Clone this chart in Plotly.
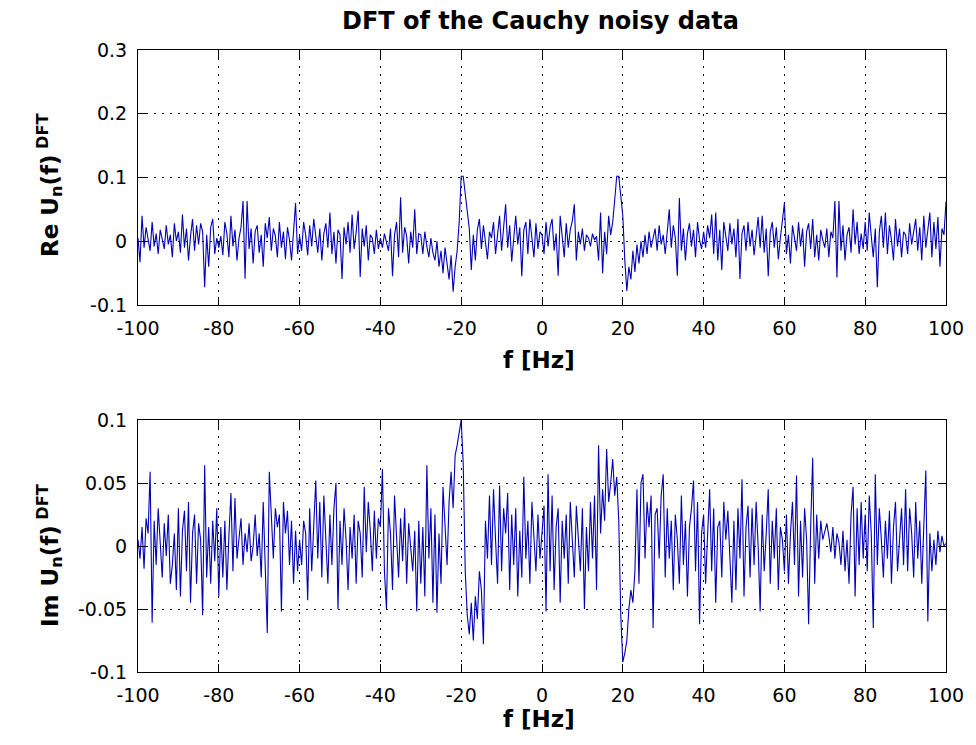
import numpy as np
import plotly.graph_objects as go

# ---------------- data ----------------
freq_step_hz = 0.5
freq_hz = np.arange(-100, 100 + freq_step_hz / 2, freq_step_hz)  # 401 bins

re_rows = [
    [0.005, -0.033, 0.040, -0.010, 0.022, 0.003, -0.015, 0.030, -0.008, 0.012, -0.020, 0.018, 0.002, -0.012, 0.025, -0.005, 0.010, -0.025, 0.028, 0.000],
    [0.015, -0.018, 0.042, -0.010, 0.020, -0.030, 0.008, 0.035, -0.015, 0.025, -0.005, 0.028, 0.015, -0.072, 0.010, -0.040, 0.022, 0.035, -0.020, 0.005],
    [-0.010, 0.008, -0.022, 0.030, 0.012, -0.025, 0.040, -0.008, 0.018, -0.030, 0.005, 0.022, 0.063, -0.059, 0.063, -0.012, 0.020, -0.035, 0.015, 0.025],
    [-0.018, 0.010, -0.040, 0.028, 0.005, 0.038, -0.015, 0.020, 0.008, -0.025, 0.030, -0.010, 0.015, -0.028, 0.022, 0.002, -0.030, 0.012, 0.060, -0.020],
    [0.008, -0.015, 0.030, 0.010, -0.022, 0.025, -0.008, 0.035, 0.005, -0.018, 0.020, -0.030, 0.012, 0.028, -0.010, 0.045, -0.020, 0.015, -0.035, 0.018],
    [0.010, -0.059, 0.022, -0.005, 0.030, -0.018, 0.042, -0.012, 0.015, 0.048, -0.056, 0.020, -0.008, 0.025, -0.030, 0.010, 0.005, -0.020, 0.018, -0.012],
    [0.005, -0.010, 0.012, 0.000, -0.015, 0.020, -0.055, 0.010, 0.030, -0.025, 0.069, -0.018, 0.022, 0.008, -0.035, 0.015, -0.010, 0.050, -0.020, 0.012],
    [0.010, -0.020, 0.015, -0.008, -0.025, 0.005, -0.018, -0.030, 0.000, -0.040, -0.015, -0.050, -0.010, -0.035, -0.060, -0.022, -0.079, -0.040, -0.015, 0.030],
    [0.102, 0.102, 0.075, 0.045, 0.020, -0.045, 0.010, -0.030, 0.018, 0.035, -0.012, 0.025, -0.005, -0.028, 0.015, 0.005, 0.030, -0.020, 0.010, 0.040],
    [-0.015, 0.020, 0.058, -0.010, 0.025, -0.032, 0.012, 0.040, -0.005, 0.022, -0.055, 0.018, 0.030, -0.020, 0.035, 0.008, -0.025, 0.028, -0.012, 0.015],
    [0.010, -0.020, 0.030, -0.008, 0.022, 0.035, -0.015, 0.012, -0.054, 0.040, 0.005, -0.025, 0.028, -0.010, 0.018, 0.032, 0.058, -0.030, 0.015, -0.005],
    [0.020, -0.015, 0.010, 0.005, -0.008, 0.012, 0.002, 0.008, -0.030, 0.045, -0.050, 0.015, -0.020, 0.040, 0.010, 0.030, 0.065, 0.102, 0.102, 0.070],
    [0.040, -0.030, -0.078, -0.040, -0.060, -0.015, -0.048, -0.005, -0.035, 0.000, -0.025, 0.010, -0.020, 0.015, -0.010, 0.005, 0.020, -0.015, 0.025, -0.005],
    [0.010, -0.020, 0.015, 0.050, -0.010, 0.025, 0.005, -0.054, 0.068, -0.015, 0.020, -0.030, 0.012, 0.028, -0.008, 0.018, -0.025, 0.030, 0.002, -0.012],
    [0.015, -0.010, 0.025, 0.005, 0.042, -0.020, 0.045, -0.030, 0.018, -0.045, 0.030, 0.010, -0.015, 0.028, -0.005, 0.020, -0.025, 0.035, -0.059, 0.012],
    [0.025, -0.015, 0.030, -0.008, 0.018, -0.022, 0.012, 0.038, -0.010, 0.040, -0.018, 0.020, -0.055, 0.015, 0.030, -0.010, 0.022, -0.028, 0.005, 0.035],
    [0.060, -0.020, 0.010, -0.035, 0.025, 0.005, -0.015, 0.030, -0.008, 0.020, -0.040, 0.015, 0.028, -0.012, 0.035, -0.025, 0.010, -0.030, 0.018, 0.002],
    [-0.010, 0.020, -0.025, 0.015, 0.005, 0.063, -0.057, 0.063, -0.015, 0.025, -0.030, 0.010, 0.022, -0.018, 0.050, -0.005, 0.030, -0.020, 0.012, -0.012],
    [0.030, -0.015, 0.045, 0.008, -0.025, 0.020, -0.072, 0.015, 0.040, -0.010, 0.045, -0.020, 0.025, 0.002, -0.030, 0.035, -0.008, 0.020, -0.025, 0.015],
    [0.010, -0.020, 0.028, -0.005, 0.018, 0.035, -0.015, 0.022, -0.030, 0.040, -0.010, 0.015, 0.045, -0.025, 0.030, -0.012, 0.038, -0.040, 0.020, 0.010],
    [0.062],
]

im_rows = [
    [0.005, -0.010, 0.015, -0.018, 0.022, 0.010, 0.059, -0.061, 0.020, -0.015, 0.030, 0.005, -0.025, 0.018, -0.008, 0.025, -0.030, -0.015, 0.010, -0.035],
    [0.030, -0.040, 0.012, 0.028, -0.020, 0.035, -0.045, 0.010, 0.025, -0.030, 0.018, 0.005, -0.055, 0.064, -0.025, 0.015, -0.030, 0.020, -0.012, 0.030],
    [-0.040, 0.015, -0.025, 0.020, -0.035, 0.008, 0.042, -0.020, 0.038, -0.010, 0.005, 0.022, -0.015, 0.010, -0.005, 0.018, -0.012, 0.000, 0.025, -0.008],
    [0.010, -0.025, 0.035, -0.015, -0.069, 0.059, 0.020, -0.010, 0.030, 0.015, 0.025, -0.052, 0.035, 0.010, 0.028, -0.015, 0.020, -0.030, 0.012, -0.020],
    [0.005, -0.015, 0.020, 0.010, -0.043, 0.030, -0.020, 0.015, 0.052, -0.010, 0.035, -0.025, 0.040, 0.005, -0.030, 0.025, -0.015, 0.030, 0.050, -0.050],
    [0.020, -0.015, 0.030, 0.005, -0.035, 0.015, -0.010, 0.025, -0.030, 0.020, 0.010, -0.025, 0.047, -0.005, 0.035, 0.012, -0.020, 0.028, -0.010, 0.022],
    [0.015, 0.061, -0.020, -0.050, 0.030, 0.010, -0.035, 0.040, 0.005, -0.025, 0.022, -0.012, 0.030, -0.030, 0.018, 0.000, -0.020, 0.012, -0.052, 0.020],
    [-0.030, 0.015, -0.040, 0.064, -0.010, 0.030, -0.045, 0.025, -0.053, 0.010, -0.030, 0.047, 0.020, -0.015, 0.035, 0.059, 0.030, 0.072, 0.080, 0.092],
    [0.100, 0.065, -0.020, -0.055, -0.070, -0.045, -0.075, -0.040, -0.058, -0.020, -0.035, -0.078, 0.020, -0.010, 0.040, -0.015, 0.045, 0.005, -0.030, 0.048],
    [-0.020, 0.030, 0.010, 0.042, -0.035, 0.025, -0.015, 0.030, -0.040, 0.012, -0.025, 0.055, -0.010, 0.020, -0.030, 0.035, 0.005, -0.020, 0.025, -0.010],
    [0.010, 0.032, -0.052, 0.057, -0.020, 0.040, -0.035, 0.015, 0.030, -0.045, 0.020, -0.010, 0.025, -0.030, 0.035, 0.005, -0.025, 0.032, 0.010, -0.020],
    [0.030, -0.050, 0.015, -0.020, 0.035, -0.010, 0.040, -0.035, 0.080, 0.010, 0.045, 0.020, 0.077, 0.035, 0.050, 0.069, 0.040, 0.055, 0.020, -0.055],
    [-0.092, -0.085, -0.075, -0.050, -0.035, -0.045, -0.020, 0.045, -0.030, 0.050, 0.057, -0.010, 0.035, 0.015, 0.040, -0.065, 0.025, 0.030, -0.010, 0.040],
    [0.057, -0.025, 0.030, -0.010, 0.020, -0.035, 0.025, 0.005, -0.030, 0.040, -0.015, 0.020, -0.040, 0.015, 0.030, 0.052, -0.020, 0.035, -0.062, 0.010],
    [0.025, -0.030, 0.010, 0.045, -0.020, 0.030, -0.045, 0.015, 0.020, -0.025, 0.035, 0.005, 0.028, -0.015, -0.045, 0.020, -0.035, 0.030, -0.010, 0.053],
    [-0.040, 0.015, 0.032, -0.025, 0.030, -0.015, 0.035, 0.000, -0.052, 0.025, -0.020, 0.010, 0.045, -0.030, 0.020, -0.010, 0.030, -0.035, 0.015, 0.005],
    [-0.020, 0.025, -0.030, 0.010, 0.035, -0.015, 0.056, -0.040, 0.020, -0.025, 0.030, 0.005, -0.062, 0.015, 0.070, -0.030, 0.025, -0.010, 0.020, 0.005],
    [0.012, 0.018, 0.008, -0.005, 0.015, -0.010, 0.010, 0.003, -0.015, 0.012, -0.020, 0.005, -0.030, 0.025, 0.047, -0.040, 0.030, -0.015, 0.035, -0.010],
    [0.025, -0.020, 0.040, 0.010, -0.065, 0.057, -0.015, 0.030, 0.005, -0.025, 0.020, -0.010, 0.028, -0.030, 0.015, 0.035, -0.020, 0.010, 0.030, -0.015],
    [0.045, -0.020, 0.030, 0.010, -0.025, 0.035, -0.010, 0.020, -0.030, 0.015, 0.060, -0.060, 0.010, -0.020, 0.005, -0.015, 0.012, -0.005, 0.008, 0.000],
    [0.002],
]

re_values = [v for row in re_rows for v in row]
im_values = [v for row in im_rows for v in row]
assert len(re_values) == len(freq_hz), len(re_values)
assert len(im_values) == len(freq_hz), len(im_values)

x_ticks = [-100, -80, -60, -40, -20, 0, 20, 40, 60, 80, 100]
x_ticklabels = ["-100", "-80", "-60", "-40", "-20", "0", "20", "40", "60", "80", "100"]
re_ticks = [-0.1, 0, 0.1, 0.2, 0.3]
re_ticklabels = ["-0.1", "0", "0.1", "0.2", "0.3"]
im_ticks = [-0.1, -0.05, 0, 0.05, 0.1]
im_ticklabels = ["-0.1", "-0.05", "0", "0.05", "0.1"]

title_text = "DFT of the Cauchy noisy data"
xlabel_text = "f [Hz]"
re_label = "Re U<sub>n</sub>(f)<sup> DFT</sup>"
im_label = "Im U<sub>n</sub>(f)<sup> DFT</sup>"

# ---------------- layout geometry (pixels) ----------------
W, H = 976, 745
L, R, T, B = 138, 21, 50, 73
PW, PH = W - L - R, H - T - B

def px_x(x):
    return (x - L) / PW

def px_y(y):
    return (H - B - y) / PH

LINE_COLOR = "#0000b8"
TICK_FONT = dict(family="DejaVu Sans", size=19, color="black")
LABEL_FONT = dict(family="DejaVu Sans", size=23, color="black")

fig = go.Figure()
fig.add_trace(go.Scatter(x=freq_hz, y=re_values, mode="lines",
                         line=dict(color=LINE_COLOR, width=1.1),
                         xaxis="x", yaxis="y", showlegend=False))
fig.add_trace(go.Scatter(x=freq_hz, y=im_values, mode="lines",
                         line=dict(color=LINE_COLOR, width=1.1),
                         xaxis="x2", yaxis="y2", showlegend=False))

common_axis = dict(
    showline=True, linecolor="black", linewidth=1, mirror="ticks",
    ticks="inside", ticklen=8, tickwidth=1, tickcolor="black",
    showgrid=True, gridcolor="black", gridwidth=1, griddash="2px,6px",
    zeroline=False, tickfont=TICK_FONT, ticklabelstandoff=6,
)

top_dom = [px_y(305), 1.0]
bot_dom = [0.0, px_y(420)]

fig.update_layout(
    width=W, height=H,
    margin=dict(l=L, r=R, t=T, b=B, pad=0),
    paper_bgcolor="white", plot_bgcolor="white",
    xaxis=dict(common_axis, range=[-100, 100], tickvals=x_ticks, ticktext=x_ticklabels,
               anchor="y", domain=[0, 1]),
    yaxis=dict(common_axis, range=[-0.1, 0.3], tickvals=re_ticks, ticktext=re_ticklabels,
               anchor="x", domain=top_dom),
    xaxis2=dict(common_axis, range=[-100, 100], tickvals=x_ticks, ticktext=x_ticklabels,
                anchor="y2", domain=[0, 1]),
    yaxis2=dict(common_axis, range=[-0.1, 0.1], tickvals=im_ticks, ticktext=im_ticklabels,
                anchor="x2", domain=bot_dom),
    annotations=[
        dict(text="<b>" + title_text + "</b>", xref="paper", yref="paper",
             x=px_x(545), y=px_y(21), showarrow=False,
             font=dict(family="DejaVu Sans", size=24, color="black"),
             xanchor="center", yanchor="middle"),
        dict(text="<b>" + xlabel_text + "</b>", xref="paper", yref="paper",
             x=px_x(543), y=px_y(360), showarrow=False, font=LABEL_FONT,
             xanchor="center", yanchor="middle"),
        dict(text="<b>" + xlabel_text + "</b>", xref="paper", yref="paper",
             x=px_x(543), y=px_y(719), showarrow=False, font=LABEL_FONT,
             xanchor="center", yanchor="middle"),
        dict(text="<b>" + re_label + "</b>", xref="paper", yref="paper",
             x=px_x(48), y=px_y(185), showarrow=False, font=LABEL_FONT,
             textangle=-90, xanchor="center", yanchor="middle"),
        dict(text="<b>" + im_label + "</b>", xref="paper", yref="paper",
             x=px_x(48), y=px_y(555), showarrow=False, font=LABEL_FONT,
             textangle=-90, xanchor="center", yanchor="middle"),
    ],
)

fig.write_html("out.html", config={"displayModeBar": False},
               post_script="document.body.style.margin='0';")
